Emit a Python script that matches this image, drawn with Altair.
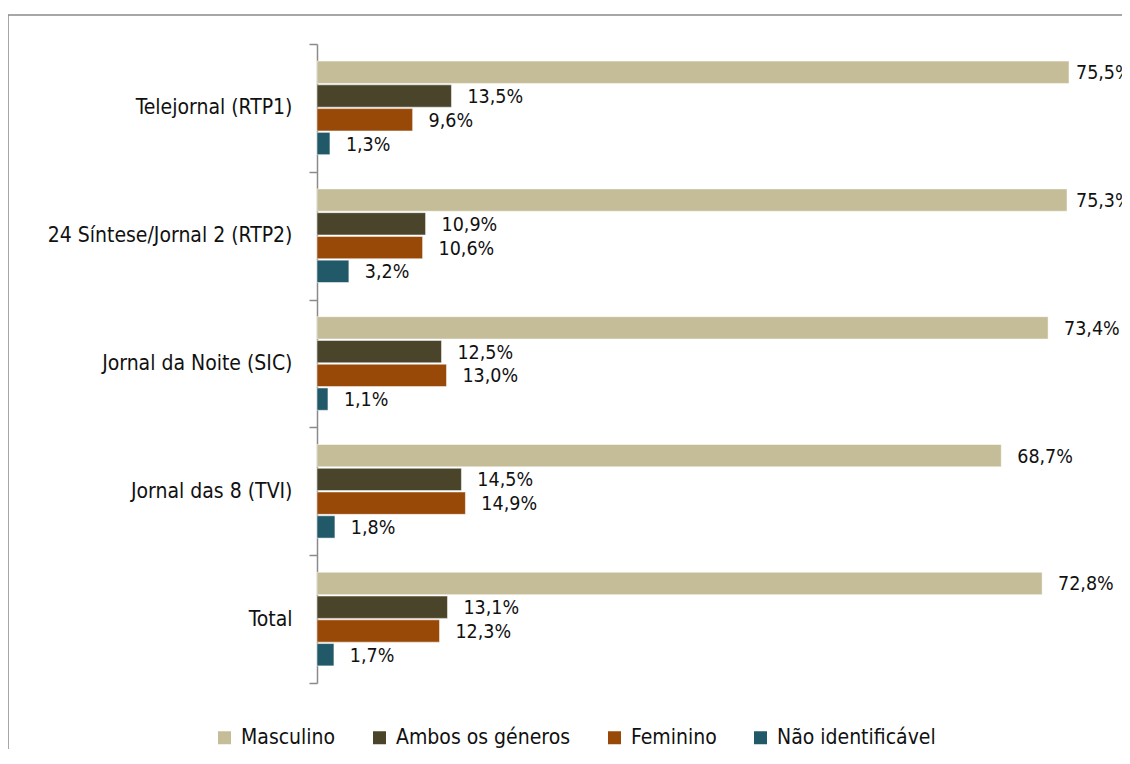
import altair as alt
import pandas as pd

programs = ["Telejornal (RTP1)", "24 Síntese/Jornal 2 (RTP2)", "Jornal da Noite (SIC)",
            "Jornal das 8 (TVI)", "Total"]
genders = ["Masculino", "Ambos os géneros", "Feminino", "Não identificável"]
colors = ["#C4BD97", "#4A452A", "#984807", "#215968"]

masculino = [75.5, 75.3, 73.4, 68.7, 72.8]
ambos = [13.5, 10.9, 12.5, 14.5, 13.1]
feminino = [9.6, 10.6, 13.0, 14.9, 12.3]
nao_ident = [1.3, 3.2, 1.1, 1.8, 1.7]

rows = []
for i, p in enumerate(programs):
    for g, vals in zip(genders, [masculino, ambos, feminino, nao_ident]):
        rows.append({"programa": p, "genero": g, "valor": vals[i]})
df = pd.DataFrame(rows)

FONT = "DejaVu Sans Condensed"
W, H = 805, 639
PL, PT, PB = 309, 36, 66
XMAX = 80.82

y = alt.Y("programa:N", sort=programs, title=None,
          scale=alt.Scale(paddingInner=0, paddingOuter=0),
          axis=alt.Axis(tickBand="extent", domainColor="#8a8a8a", tickColor="#8a8a8a",
                        domainWidth=1.5, tickWidth=1.5, tickSize=8, labelPadding=17,
                        labelFont=FONT, labelFontSize=21, labelColor="#111111", labelLimit=400))
yoff = alt.YOffset("genero:N", sort=genders,
                   scale=alt.Scale(paddingInner=0.06, paddingOuter=0.72))
xscale = alt.Scale(domain=[0, XMAX], nice=False)

base = alt.Chart(df)

bars = base.mark_bar(stroke="white", strokeWidth=0.5).encode(
    y=y, yOffset=yoff,
    x=alt.X("valor:Q", scale=xscale, axis=None, title=None),
    color=alt.Color("genero:N", sort=genders,
                    scale=alt.Scale(domain=genders, range=colors),
                    legend=alt.Legend(title=None, orient="none", direction="horizontal",
                                      legendX=-103, legendY=683,
                                      symbolType="square", symbolSize=169, symbolStrokeWidth=0,
                                      symbolOpacity=1,
                                      labelFont=FONT, labelFontSize=21, labelColor="#111111",
                                      labelOffset=6, columnPadding=33, labelLimit=300)),
)

# labels sit just right of each bar, pulled back when they would run off the chart
labels = base.transform_calculate(
    lbl="replace(format(datum.valor, '.1f'), '.', ',') + '%'",
    lx="min(datum.valor + 1.6, 76.2)",
).mark_text(align="left", baseline="middle", dy=1, font=FONT, fontSize=19.5,
            color="#111111").encode(
    y=y, yOffset=yoff,
    x=alt.X("lx:Q", scale=xscale, axis=None, title=None),
    text="lbl:N")

frame_left = alt.Chart(pd.DataFrame({"a": [0]})).mark_rule(color="#8a8a8a", strokeWidth=1.5).encode(
    x=alt.value(-PL), y=alt.value(-PT + 7), y2=alt.value(H + PB + 10))
frame_top = alt.Chart(pd.DataFrame({"a": [0]})).mark_rule(color="#8a8a8a", strokeWidth=1.5).encode(
    x=alt.value(-PL), x2=alt.value(W + 20), y=alt.value(-PT + 7))

chart = alt.layer(frame_left, frame_top, bars, labels).properties(
    width=W, height=H,
    autosize=alt.AutoSizeParams(type="none"),
    padding={"left": PL, "top": PT, "right": 0, "bottom": PB},
    background="white",
).configure_view(stroke=None)

chart.save("out.html", embed_options={"renderer": "svg", "actions": False})
